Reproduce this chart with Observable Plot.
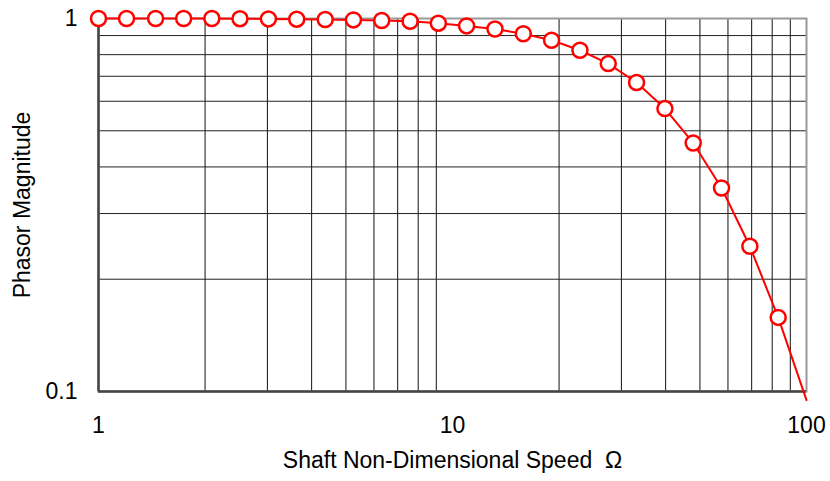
<!DOCTYPE html>
<html>
<head>
<meta charset="utf-8">
<script src="https://cdn.jsdelivr.net/npm/d3@7"></script>
<script src="https://cdn.jsdelivr.net/npm/@observablehq/plot@0.6"></script>
<style>
  html, body { margin: 0; padding: 0; background: #fff; }
  #chart svg g[aria-label$="tick label"],
  #chart svg g[aria-label$="tick label"] text { font-size: 23px; }
</style>
</head>
<body>
<div id="chart"></div>
<script>
// Shaft speed samples (log-spaced) and the measured phasor magnitude at each
const speeds = [1, 1.2, 1.45, 1.74, 2.09, 2.51, 3.02, 3.63, 4.37, 5.25, 6.31, 7.59, 9.12,
  10.96, 13.18, 15.85, 19.05, 22.91, 27.54, 33.11, 39.81, 47.86, 57.54, 69.18, 83.18];
const magnitudes = [1.0, 1.0, 1.0, 1.0, 1.0, 0.9988, 0.9975, 0.9957, 0.9938, 0.9914, 0.9877, 0.9834, 0.9714,
  0.9553, 0.9371, 0.9103, 0.8745, 0.8221, 0.757, 0.6736, 0.5735, 0.4638, 0.3512, 0.2451, 0.158];

// The response curve runs on to the right edge of the speed range
const curveEndSpeed = 100;
const curveEndMagnitude = 0.0948;

// Axis ticks and grid lines
const xTicks = [1, 10, 100];
const yTicks = [0.1, 1];
const xGrid = [2, 3, 4, 5, 6, 7, 8, 9, 20, 30, 40, 50, 60, 70, 80, 90];
const yGrid = [0.2, 0.3, 0.4, 0.5, 0.6, 0.7, 0.8, 0.9];

const points = speeds.map((s, i) => ({speed: s, mag: magnitudes[i]}));
const curve = [...points, {speed: curveEndSpeed, mag: curveEndMagnitude}];

const chart = Plot.plot({
  width: 830,
  height: 481,
  marginLeft: 98,
  marginRight: 24,
  marginTop: 18,
  marginBottom: 90,
  style: {fontFamily: "'Liberation Sans', Arial, sans-serif", fontSize: "22px", color: "#000", background: "#fff"},
  x: {type: "log", domain: [1, 100]},
  y: {type: "log", domain: [0.1, 1]},
  marks: [
    Plot.ruleX(xGrid, {stroke: "#111", strokeWidth: 1}),
    Plot.ruleY(yGrid, {stroke: "#222", strokeWidth: 1}),
    Plot.frame({stroke: "#999", strokeWidth: 2}),
    Plot.ruleX([1], {stroke: "#444", strokeWidth: 2.5}),
    Plot.ruleY([0.1], {stroke: "#444", strokeWidth: 2.5}),
    Plot.axisX(xTicks, {tickSize: 0, tickPadding: 25, tickFormat: d => String(d), label: null, fontSize: 23}),
    Plot.axisY(yTicks, {tickSize: 0, tickPadding: 21, tickFormat: d => String(d), label: null, fontSize: 23}),
    Plot.line(curve, {x: "speed", y: "mag", stroke: "#ff0000", strokeWidth: 2}),
    Plot.dot(points, {x: "speed", y: "mag", r: 7.5, fill: "#fff", stroke: "#ff0000", strokeWidth: 2.5}),
    Plot.text(["Shaft Non-Dimensional Speed\u00a0 Ω"], {frameAnchor: "bottom", dy: 76, fontSize: 23, fill: "#000"}),
    Plot.text(["Phasor Magnitude"], {frameAnchor: "left", dx: -76, rotate: -90, textAnchor: "middle", fontSize: 23, fill: "#000"})
  ]
});

document.getElementById("chart").append(chart);
</script>
</body>
</html>
